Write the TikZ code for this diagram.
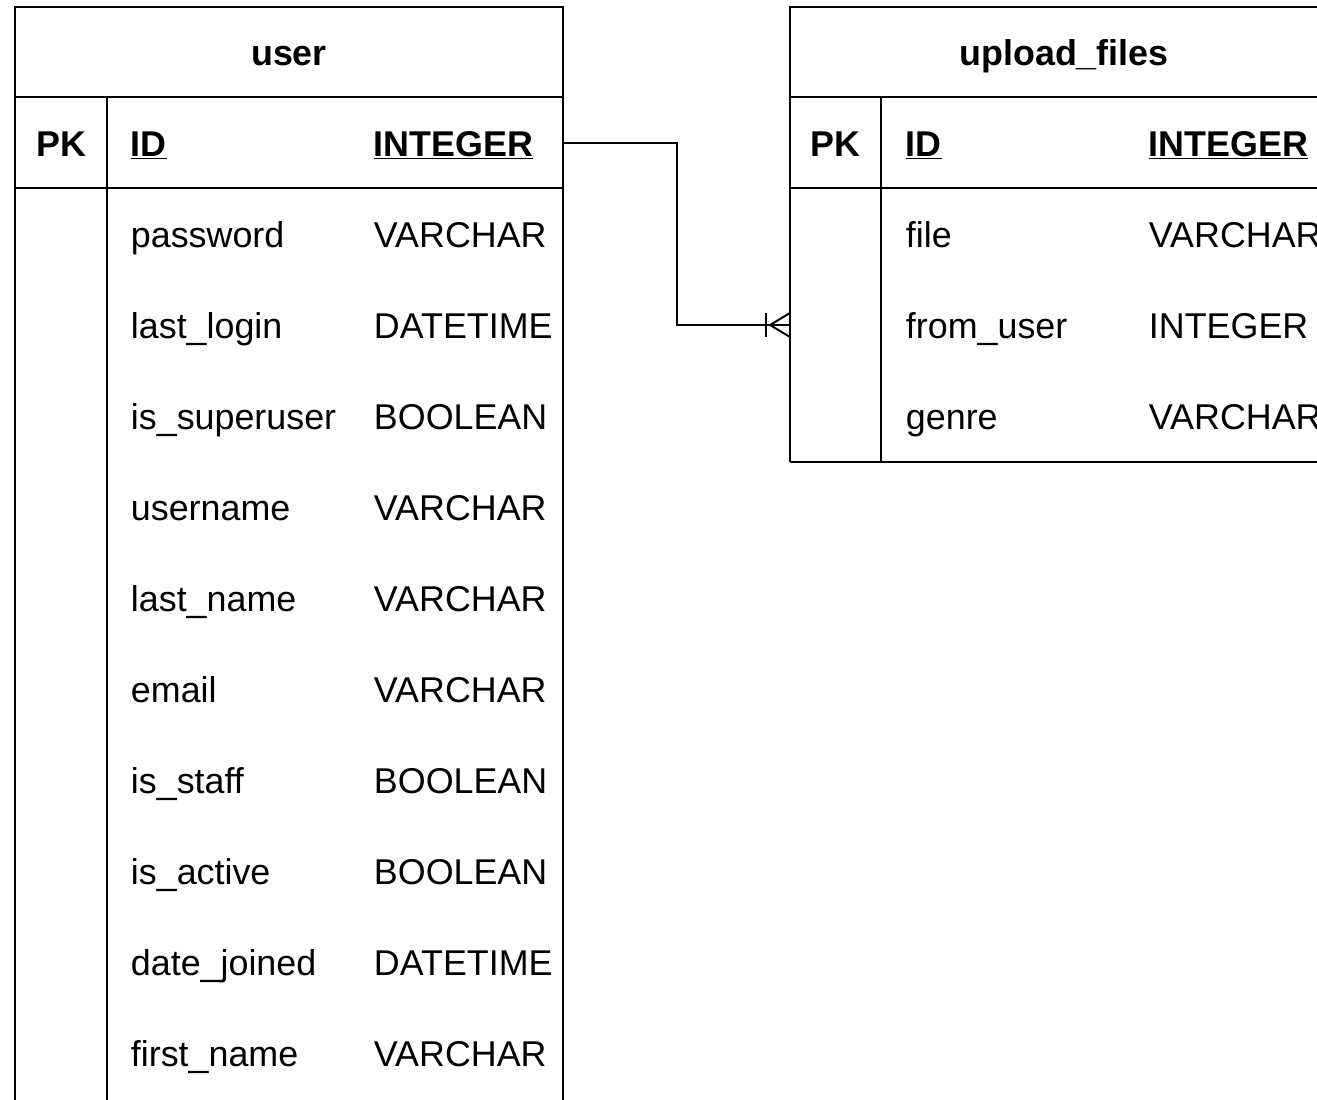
\documentclass[tikz,border=0pt]{standalone}
\usepackage{fontspec}
\setmainfont{Liberation Sans}
\usetikzlibrary{positioning}
\tikzset{
  cell/.style={font=\fontsize{20.4}{24}\selectfont, anchor=base west, inner sep=0pt},
  key/.style={cell, font=\fontsize{20.4}{24}\selectfont\bfseries},
  title/.style={key, anchor=base},
}

\begin{document}
\begin{tikzpicture}[x=0.02cm, y=-0.02cm, line width=1.1pt]
    \useasboundingbox (0,0) rectangle (1317,1099);
    \clip (0,0) rectangle (1317,1099);
    % user table
    \draw (15,1140) -- (15,7) -- (563,7) -- (563,1140);
    \draw (15,97) -- (563,97);
    \draw (15,188) -- (563,188);
    \draw (107,97) -- (107,1140);
    \node[title] (user-title) at (289,65) {user};
    \node[key, anchor=base] (user-pk) at (61,156) {PK};
    \node[key] (user-id) at (130,156) {\underline{ID}};
    \node[key] (user-id-type) at (373,156) {\underline{INTEGER}};
    \foreach \name/\type [count=\i] in {password/VARCHAR, last\_login/DATETIME,
        is\_superuser/BOOLEAN, username/VARCHAR, last\_name/VARCHAR, email/VARCHAR,
        is\_staff/BOOLEAN, is\_active/BOOLEAN, date\_joined/DATETIME, first\_name/VARCHAR}
    {
        \node[cell] (user-\i) at (130,156+91*\i) {\name};
        \node[cell] (user-\i-type) at (373,156+91*\i) {\type};
    }
    % upload_files table
    \draw (790,462) -- (790,7) -- (1345,7);
    \draw (790,97) -- (1345,97);
    \draw (790,188) -- (1345,188);
    \draw (790,462) -- (1345,462);
    \draw (881,97) -- (881,462);
    \node[title] (upload-title) at (1064,65) {upload\_files};
    \node[key, anchor=base] (upload-pk) at (835,156) {PK};
    \node[key] (upload-id) at (905,156) {\underline{ID}};
    \node[key] (upload-id-type) at (1148,156) {\underline{INTEGER}};
    \foreach \name/\type [count=\i] in {file/VARCHAR, from\_user/INTEGER, genre/VARCHAR}
    {
        \node[cell] (upload-\i) at (905,156+91*\i) {\name};
        \node[cell] (upload-\i-type) at (1148,156+91*\i) {\type};
    }
    % relation user.ID -> upload_files.from_user
    \coordinate (user-id-edge) at (563,143);
    \coordinate (upload-from-edge) at (790,325);
    \draw (user-id-edge) -- ++(114,0) |- (upload-from-edge);
    \draw (upload-from-edge) ++(-24,-12) -- ++(0,24);
    \draw (upload-from-edge) ++(0,-12) -- ++(-20,12) -- ++(20,12);
\end{tikzpicture}
\end{document}
